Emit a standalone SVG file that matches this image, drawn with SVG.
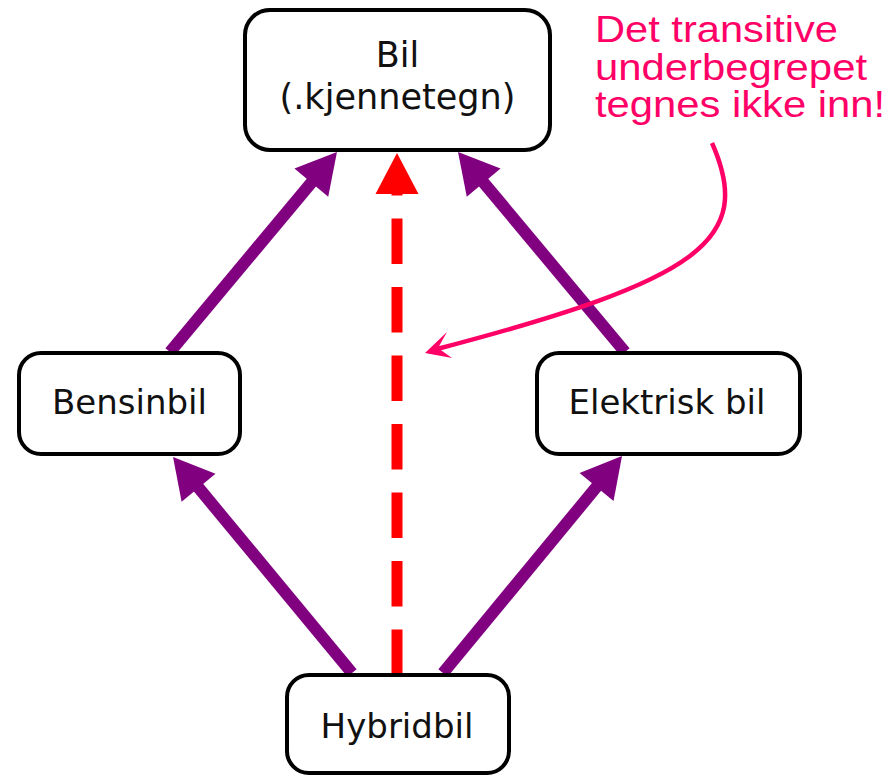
<svg xmlns="http://www.w3.org/2000/svg" width="892" height="776" viewBox="0 0 892 776">
<style>
.box{fill:#fff;stroke:#000;stroke-width:4}
.lbl{font-family:"DejaVu Sans",Verdana,sans-serif;font-size:34px;fill:#111;text-anchor:middle}
.purple{stroke:#800080;stroke-width:12;fill:none}
.note{font-family:"Liberation Sans",Arial,sans-serif;font-size:37px;fill:#ff0066}
</style>
<defs>
<marker id="ph" markerUnits="userSpaceOnUse" markerWidth="40" markerHeight="44" refX="4" refY="22" orient="auto" overflow="visible">
<path d="M0,0 L40,22 L0,44 Z" fill="#800080"/>
</marker>
<marker id="rh" markerUnits="userSpaceOnUse" markerWidth="41" markerHeight="43" refX="1" refY="21.5" orient="auto" overflow="visible">
<path d="M0,0 L41,21.5 L0,43 Z" fill="#ff0000"/>
</marker>
</defs>
<rect width="892" height="776" fill="#fff"/>
<g id="connectors">
<line class="purple" x1="170" y1="352" x2="313.9" y2="179.6" marker-end="url(#ph)"/>
<line class="purple" x1="625" y1="352" x2="481.1" y2="179.6" marker-end="url(#ph)"/>
<line class="purple" x1="352" y1="673" x2="196" y2="484.7" marker-end="url(#ph)"/>
<line class="purple" x1="443" y1="673" x2="599.1" y2="483.8" marker-end="url(#ph)"/>
<path d="M397,675 L397,193" stroke="#ff0000" stroke-width="11" stroke-dasharray="45.5 23" fill="none" marker-end="url(#rh)"/>
</g>
<g id="bil">
<rect class="box" x="245" y="10" width="305" height="140" rx="25"/>
<text class="lbl" x="397.5" y="67" style="font-size:35px">Bil</text>
<text class="lbl" x="397.5" y="109" style="font-size:35px" textLength="236" lengthAdjust="spacingAndGlyphs">(.kjennetegn)</text>
</g>
<g id="bensinbil">
<rect class="box" x="19" y="353" width="221" height="101" rx="22"/>
<text class="lbl" x="129.5" y="414">Bensinbil</text>
</g>
<g id="elektrisk">
<rect class="box" x="537" y="353" width="263" height="101" rx="22"/>
<text class="lbl" x="667" y="414">Elektrisk bil</text>
</g>
<g id="hybridbil">
<rect class="box" x="287" y="675" width="222" height="98" rx="22"/>
<text class="lbl" x="397" y="738">Hybridbil</text>
</g>
<g id="note">
<text class="note" x="595" y="42" textLength="243" lengthAdjust="spacingAndGlyphs">Det transitive</text>
<text class="note" x="595" y="79.5" textLength="272" lengthAdjust="spacingAndGlyphs">underbegrepet</text>
<text class="note" x="595" y="117" textLength="290" lengthAdjust="spacingAndGlyphs">tegnes ikke inn!</text>
<path d="M712,143 C755,240 700,280 437,349" stroke="#ff0066" stroke-width="4.5" fill="none"/>
<path d="M425,353 L447,332 L438,348 L452,358 Z" fill="#ff0066"/>
</g>
</svg>
